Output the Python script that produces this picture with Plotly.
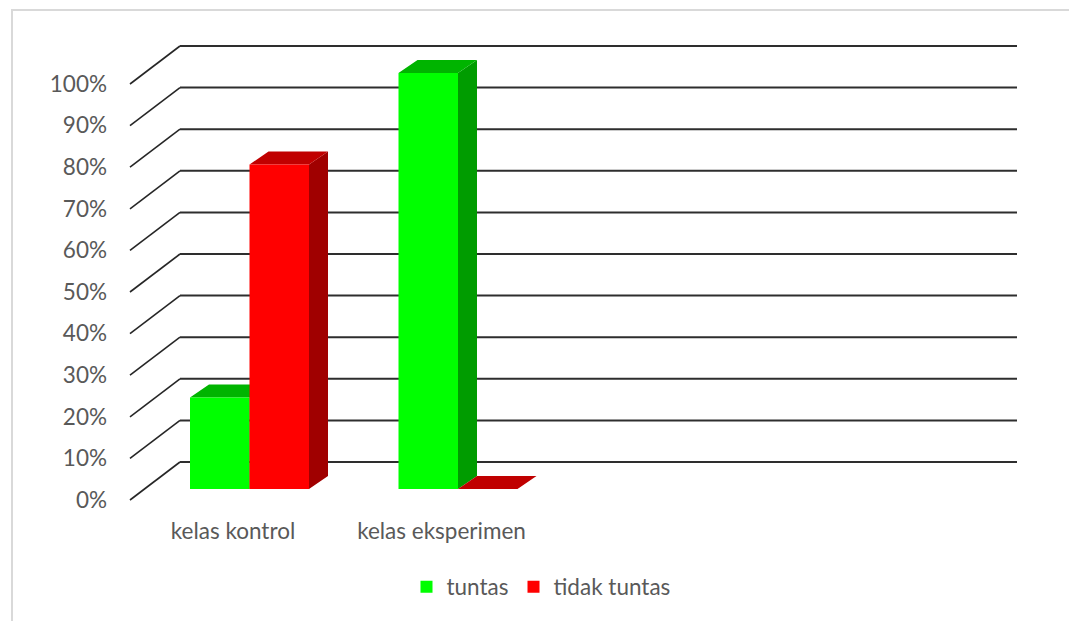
import plotly.graph_objects as go

# ---- data ----
categories = ["kelas kontrol", "kelas eksperimen"]
series_names = ["tuntas", "tidak tuntas"]
tuntas = [22, 100]
tidak_tuntas = [78, 0]
y_ticks = [0, 10, 20, 30, 40, 50, 60, 70, 80, 90, 100]

# ---- layout geometry (pixels) ----
W, H = 1069, 621
L, R, T, B = 110, 1040, 20, 515      # plot-area edges
CAT_PX = 208.5                       # px between category positions
CAT0_PX = 233                        # px of first category on the front plane
PCT_PX = 4.16                        # px per percent
ZERO_PX = 500                        # px of 0% on the front plane


def ux(px):
    return px / CAT_PX


def uy(px):
    return px / PCT_PX


x_range = [(L - CAT0_PX) / CAT_PX, (R - CAT0_PX) / CAT_PX]
y_range = [(ZERO_PX - B) / PCT_PX, (ZERO_PX - T) / PCT_PX]

# back wall / floor depth
WALL_X0 = ux(130 - CAT0_PX)
WALL_DX, WALL_DY = ux(50), uy(38)
WALL_X1 = ux(1017 - CAT0_PX)

# bar box geometry
BAR_W = ux(59.5)
BAR_SHIFT = ux(16.5)
BAR_BASE = uy(11)
DEPTH_DX, DEPTH_DY = ux(19), uy(13)

FRONT = ["#00FF00", "#FF0000"]
TOP = ["#00B400", "#C00000"]
SIDE = ["#009C00", "#A00000"]
TEXT = "#595959"
FONT = "Lato"
FSIZE = 22.5

fig = go.Figure()

# wall gridlines and floor diagonals
diag_x, diag_y, grid_x, grid_y = [], [], [], []
for v in y_ticks:
    diag_x += [WALL_X0, WALL_X0 + WALL_DX, None]
    diag_y += [v, v + WALL_DY, None]
    grid_x += [WALL_X0 + WALL_DX, WALL_X1, None]
    grid_y += [v + WALL_DY, v + WALL_DY, None]
fig.add_trace(go.Scatter(x=diag_x, y=diag_y, mode="lines",
                         line=dict(color="#262626", width=1.6),
                         hoverinfo="skip", showlegend=False, zorder=0))
fig.add_trace(go.Scatter(x=grid_x, y=grid_y, mode="lines",
                         line=dict(color="#2E2E2E", width=2),
                         hoverinfo="skip", showlegend=False, zorder=0))

# 3D bars: side and top faces as polygons, front faces as bars
for s, values in enumerate([tuntas, tidak_tuntas]):
    sx, sy, tx, ty, centers = [], [], [], [], []
    for i, v in enumerate(values):
        c = i + BAR_SHIFT + (s - 0.5) * BAR_W
        centers.append(c)
        left, right = c - BAR_W / 2, c + BAR_W / 2
        bot, top = BAR_BASE, BAR_BASE + v
        sx += [right, right + DEPTH_DX, right + DEPTH_DX, right, right, None]
        sy += [bot, bot + DEPTH_DY, top + DEPTH_DY, top, bot, None]
        tx += [left, right, right + DEPTH_DX, left + DEPTH_DX, left, None]
        ty += [top, top, top + DEPTH_DY, top + DEPTH_DY, top, None]
    fig.add_trace(go.Scatter(x=sx, y=sy, mode="lines", fill="toself",
                             fillcolor=SIDE[s], line=dict(width=0, color=SIDE[s]),
                             hoverinfo="skip", showlegend=False, zorder=2 * s + 1))
    fig.add_trace(go.Scatter(x=tx, y=ty, mode="lines", fill="toself",
                             fillcolor=TOP[s], line=dict(width=0, color=TOP[s]),
                             hoverinfo="skip", showlegend=False, zorder=2 * s + 1))
    fig.add_trace(go.Bar(x=centers, y=values, base=BAR_BASE, width=BAR_W,
                         name=series_names[s], marker=dict(color=FRONT[s], line=dict(width=0)),
                         zorder=2 * s + 2))


def px_to_paper_x(px):
    return (px - L) / (R - L)


def px_to_paper_y(px):
    return (B - px) / (B - T)


# chart frame
frame = dict(color="#D9D9D9", width=2)
fig.add_shape(type="line", xref="paper", yref="paper",
              x0=px_to_paper_x(11), x1=px_to_paper_x(1080),
              y0=px_to_paper_y(10), y1=px_to_paper_y(10), line=frame)
fig.add_shape(type="line", xref="paper", yref="paper",
              x0=px_to_paper_x(12), x1=px_to_paper_x(12),
              y0=px_to_paper_y(9), y1=px_to_paper_y(640), line=frame)

fig.update_layout(
    width=W, height=H,
    margin=dict(l=L, r=W - R, t=T, b=H - B, pad=0),
    paper_bgcolor="white", plot_bgcolor="white",
    barmode="overlay",
    font=dict(family=FONT, size=FSIZE, color=TEXT),
    showlegend=True,
    legend=dict(orientation="h", x=px_to_paper_x(541), xanchor="center",
                y=px_to_paper_y(587), yanchor="middle",
                font=dict(family=FONT, size=FSIZE, color=TEXT),
                bgcolor="rgba(0,0,0,0)"),
    xaxis=dict(range=x_range, tickvals=list(range(len(categories))), ticktext=categories,
               showgrid=False, zeroline=False, showline=False, ticks="",
               tickfont=dict(family=FONT, size=FSIZE, color=TEXT), fixedrange=True),
    yaxis=dict(range=y_range, tickvals=y_ticks, ticktext=[f"{v}%" for v in y_ticks],
               showgrid=False, zeroline=False, showline=False, ticks="",
               ticklabelstandoff=2,
               tickfont=dict(family=FONT, size=FSIZE, color=TEXT), fixedrange=True),
)

fig.write_html("out.html")
